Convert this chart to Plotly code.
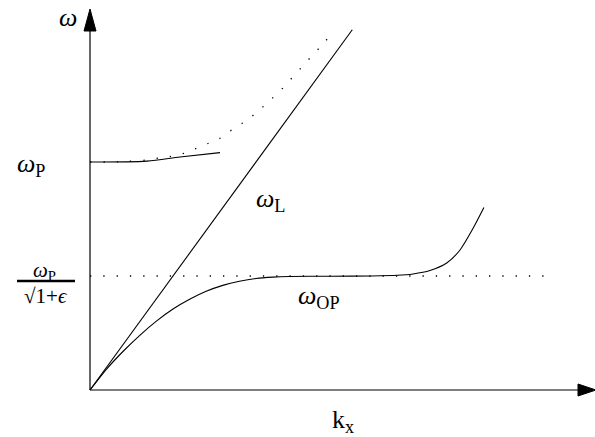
import plotly.graph_objects as go

# Data (k in units of omega_P/c, omega in units of omega_P)
light_k = [0.0, 1.58]
light_w = [0.0, 1.58]

op_level_k = [0.0, 2.76]
op_level_w = [0.5, 0.5]

lower_k = [0.0, 0.1, 0.2, 0.3, 0.4, 0.5, 0.6, 0.7, 0.8, 0.9, 1.0, 1.1, 1.2,
           1.45, 1.70, 1.85, 1.946, 2.048, 2.149, 2.229, 2.307, 2.373]
lower_w = [0.0, 0.092, 0.170, 0.240, 0.302, 0.355, 0.398, 0.433, 0.459, 0.477, 0.489, 0.495, 0.498,
           0.499, 0.500, 0.503, 0.509, 0.524, 0.557, 0.614, 0.708, 0.800]

upper_dot_k = [0.0, 0.181, 0.343, 0.422, 0.500, 0.578, 0.651, 0.723, 0.801, 0.861,
               0.928, 0.994, 1.054, 1.108, 1.169, 1.223, 1.277, 1.331, 1.386, 1.440]
upper_dot_w = [1.000, 1.001, 1.009, 1.018, 1.026, 1.041, 1.063, 1.085, 1.111, 1.145,
               1.175, 1.211, 1.250, 1.286, 1.330, 1.374, 1.417, 1.461, 1.504, 1.548]

upper_k = [0.0, 0.343, 0.542, 0.783]
upper_w = [1.000, 1.004, 1.022, 1.041]

W, H = 595, 437
X_RANGE = [-0.5422, 3.0422]
Y_RANGE = [-0.2061, 1.7105]


def px(x, y):
    return x / W, 1 - y / H


fig = go.Figure()
line = dict(color="black", width=1.1)
dots = dict(color="black", width=1.3, dash="1.3px,12px")

fig.add_trace(go.Scatter(x=light_k, y=light_w, mode="lines", line=line))
fig.add_trace(go.Scatter(x=op_level_k, y=op_level_w, mode="lines", line=dots))
fig.add_trace(go.Scatter(x=lower_k, y=lower_w, mode="lines",
                         line=dict(color="black", width=1.1, shape="spline", smoothing=0.7)))
fig.add_trace(go.Scatter(x=upper_dot_k, y=upper_dot_w, mode="lines",
                         line=dict(color="black", width=1.3, dash="1.3px,12px",
                                   shape="spline", smoothing=0.8)))
fig.add_trace(go.Scatter(x=upper_k, y=upper_w, mode="lines",
                         line=dict(color="black", width=1.1, shape="spline", smoothing=0.8)))

# axes lines
fig.add_shape(type="line", xref="x", yref="y", x0=0, y0=0, x1=(580 - 90) / 166, y1=0,
              line=dict(color="black", width=1.2))
fig.add_shape(type="line", xref="x", yref="y", x0=0, y0=0, x1=0, y1=(390 - 28) / 228,
              line=dict(color="black", width=1.2))


def tri(pts):
    p = [px(*q) for q in pts]
    return "M{},{} L{},{} L{},{} Z".format(p[0][0], p[0][1], p[1][0], p[1][1], p[2][0], p[2][1])


fig.add_shape(type="path", xref="paper", yref="paper", path=tri([(84, 31), (96, 31), (90, 9)]),
              fillcolor="black", line=dict(color="black", width=1))
fig.add_shape(type="path", xref="paper", yref="paper", path=tri([(578, 384), (578, 396), (596, 390)]),
              fillcolor="black", line=dict(color="black", width=1))

# fraction bar
fig.add_shape(type="line", xref="paper", yref="paper",
              x0=17 / W, x1=75 / W, y0=1 - 281 / H, y1=1 - 281 / H,
              line=dict(color="black", width=2.4))

FONT = "Liberation Serif"


def label(x, y, text, size=22):
    fig.add_annotation(x=x / W, y=1 - y / H, xref="paper", yref="paper", text=text,
                       showarrow=False, font=dict(family=FONT, size=size, color="black"),
                       xanchor="center", yanchor="middle")


label(68, 18, "<i>ω</i>", 26)
label(31, 165, "<i>ω</i><sub>P</sub>", 26)
label(270, 200, "<i>ω</i><sub>L</sub>", 26)
label(319, 297, "<i>ω</i><sub>OP</sub>", 26)
label(343, 421, "k<sub>x</sub>", 26)
label(44, 271, "<i>ω</i><sub>P</sub>", 21)
label(46, 296, "√1+<i>ϵ</i>", 21)

fig.update_layout(
    width=W, height=H, margin=dict(l=0, r=0, t=0, b=0),
    paper_bgcolor="white", plot_bgcolor="white", showlegend=False,
    xaxis=dict(range=X_RANGE, visible=False, fixedrange=True),
    yaxis=dict(range=Y_RANGE, visible=False, fixedrange=True),
)

fig.write_html("out.html", config={"displayModeBar": False},
               post_script="document.body.style.margin='0';document.body.style.overflow='hidden';")
